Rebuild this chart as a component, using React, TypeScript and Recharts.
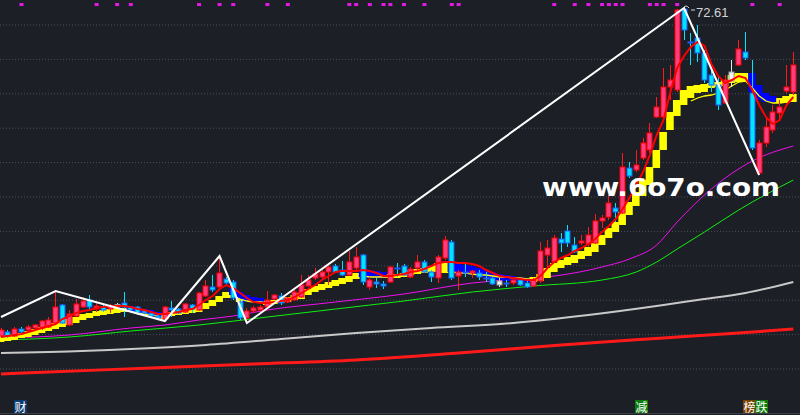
import React from 'react';
import { ComposedChart, Line, Bar, Scatter, XAxis, YAxis, ReferenceLine } from 'recharts';

const W = 800;
const H = 415;
const X_DOMAIN: [number, number] = [-0.146, 116.98];
const Y_DOMAIN: [number, number] = [11.56, 73.81];

// ---- candles (index 0..116) ----
const opens = [
  23.41, 24.01, 23.41, 24.46, 24.31, 24.61, 24.61, 24.76, 25.36, 28.06,
  25.06, 26.41, 27.76, 28.81, 27.46, 27.76, 27.46, 28.13, 28.36, 27.76,
  27.76, 27.16, 26.86, 26.41, 25.96, 27.61, 27.46, 27.01, 28.06, 27.31,
  29.41, 30.76, 30.76, 31.96, 31.51, 28.51, 26.11, 27.16, 27.31, 27.76,
  28.96, 29.41, 28.51, 28.81, 29.26, 30.91, 32.11, 32.26, 33.01, 33.91,
  33.31, 32.56, 33.61, 35.56, 30.76, 31.51, 31.21, 31.51, 33.61, 33.91,
  32.26, 33.61, 34.51, 33.01, 32.11, 35.11, 37.51, 32.41, 33.01, 32.86,
  32.86, 32.11, 32.11, 31.66, 31.36, 31.36, 31.81, 31.36, 30.91, 31.66,
  35.56, 34.51, 37.96, 39.16, 37.06, 37.36, 37.21, 37.36, 40.66, 41.26,
  42.61, 41.86, 48.61, 48.31, 50.11, 51.31, 56.26, 56.26, 60.76, 60.31,
  72.46, 67.51, 68.11, 65.86, 62.56, 61.06, 58.36, 61.66, 64.06, 66.01,
  59.86, 47.86, 52.36, 54.31, 56.86, 60.16, 60.01,
];
const highs = [
  24.61, 24.31, 24.76, 24.76, 25.06, 25.21, 25.81, 26.26, 30.16, 28.21,
  27.31, 28.96, 29.26, 29.56, 28.36, 28.21, 28.21, 28.36, 30.01, 27.91,
  27.91, 27.46, 27.01, 26.56, 27.91, 28.66, 27.61, 28.36, 28.21, 30.01,
  31.81, 32.56, 35.41, 32.26, 31.81, 28.81, 27.61, 27.91, 28.06, 30.16,
  29.71, 29.86, 29.26, 30.31, 32.56, 32.56, 33.61, 33.31, 34.36, 34.21,
  34.66, 36.16, 36.76, 35.71, 32.26, 32.11, 31.66, 33.91, 34.36, 34.21,
  33.76, 35.56, 34.81, 33.31, 35.56, 38.41, 37.81, 33.31, 34.51, 33.31,
  33.31, 33.01, 32.26, 32.11, 31.81, 31.96, 32.11, 31.81, 32.11, 37.51,
  37.81, 38.56, 38.86, 40.06, 38.26, 38.56, 39.76, 41.71, 41.56, 44.56,
  43.36, 50.86, 49.51, 51.31, 53.11, 55.36, 59.26, 63.61, 64.06, 72.46,
  72.61, 68.86, 70.06, 66.31, 63.76, 62.26, 62.56, 64.81, 67.81, 69.01,
  64.81, 52.81, 56.26, 58.06, 58.81, 64.06, 66.01,
];
const lows = [
  23.11, 23.11, 23.26, 23.56, 24.01, 24.31, 24.31, 24.61, 25.21, 25.21,
  24.91, 26.26, 27.61, 27.31, 27.01, 27.01, 26.86, 27.76, 26.26, 27.01,
  26.56, 26.56, 26.26, 25.81, 25.66, 26.26, 26.71, 26.86, 26.86, 27.16,
  29.26, 30.01, 30.61, 31.06, 28.81, 25.81, 25.36, 26.86, 27.01, 27.61,
  28.81, 28.06, 28.36, 28.66, 29.11, 30.76, 31.81, 31.96, 31.06, 32.86,
  32.41, 32.41, 33.31, 31.06, 30.31, 30.61, 30.46, 31.36, 32.26, 32.41,
  32.11, 33.31, 32.86, 31.51, 31.36, 34.81, 31.81, 30.31, 32.26, 32.11,
  31.81, 31.51, 31.06, 30.76, 30.76, 31.06, 30.91, 30.61, 30.76, 31.36,
  33.76, 34.36, 36.01, 36.76, 35.86, 37.06, 36.76, 37.21, 39.61, 40.81,
  40.51, 41.71, 47.11, 48.01, 49.81, 50.86, 56.11, 55.96, 58.81, 60.01,
  67.81, 64.06, 64.51, 61.36, 60.01, 57.31, 58.21, 60.76, 63.91, 64.81,
  51.31, 47.56, 51.76, 53.86, 55.81, 59.86, 59.56,
];
const closes = [
  24.31, 23.41, 24.46, 24.01, 24.76, 25.06, 25.66, 25.81, 27.76, 25.36,
  26.71, 28.21, 28.66, 27.76, 27.91, 27.31, 27.91, 28.10, 27.76, 27.31,
  26.86, 26.86, 26.41, 26.11, 27.76, 27.31, 26.86, 28.21, 27.46, 29.86,
  30.91, 30.31, 32.86, 31.36, 29.11, 26.11, 27.16, 27.61, 27.76, 28.81,
  29.56, 28.36, 29.11, 30.01, 31.06, 31.81, 32.71, 33.01, 33.76, 33.01,
  32.56, 34.51, 35.26, 31.51, 31.81, 31.21, 30.91, 33.76, 33.46, 32.56,
  33.46, 34.51, 33.01, 32.26, 35.26, 37.81, 32.11, 33.01, 32.86, 33.16,
  32.26, 31.96, 31.21, 31.06, 31.21, 31.81, 31.06, 30.76, 31.81, 36.16,
  36.61, 38.11, 37.36, 37.36, 36.01, 37.66, 38.56, 40.66, 41.11, 43.36,
  42.01, 48.76, 47.41, 49.06, 52.36, 53.86, 57.76, 60.76, 61.81, 72.31,
  69.31, 67.36, 65.86, 61.81, 61.06, 58.06, 61.81, 63.01, 66.46, 65.11,
  51.61, 52.36, 54.76, 57.01, 57.76, 60.76, 64.06,
];
const whiteCandles = [17, 73, 107];

// ---- MA5 (red thin) ----
const ma5 = [
  23.26, 23.41, 23.56, 23.71, 24.01, 24.31, 24.61, 24.91, 25.21, 25.96,
  26.41, 26.86, 27.16, 27.31, 27.61, 27.76, 27.91, 27.91, 27.91, 27.76,
  27.46, 27.31, 27.01, 26.71, 26.71, 26.86, 27.01, 27.31, 27.46, 28.06,
  28.81, 29.41, 30.46, 31.06, 30.61, 29.86, 29.11, 28.51, 28.36, 28.36,
  28.51, 28.66, 28.81, 29.26, 29.86, 30.46, 31.06, 31.81, 32.41, 33.01,
  33.16, 33.16, 33.16, 33.31, 33.16, 32.86, 32.41, 32.41, 32.56, 32.71,
  33.01, 33.16, 33.46, 33.91, 34.36, 34.51, 34.51, 34.36, 34.36, 34.21,
  33.91, 33.31, 32.86, 32.41, 32.26, 32.11, 31.96, 31.81, 31.81, 32.41,
  33.61, 34.51, 35.11, 35.56, 36.16, 36.61, 37.21, 37.96, 39.01, 39.91,
  40.96, 42.46, 44.11, 46.06, 48.01, 50.56, 53.56, 55.81, 60.01, 63.61,
  65.41, 66.76, 67.51, 66.91, 64.21, 62.41, 61.36, 61.81, 62.41, 62.11,
  60.31, 58.06, 56.26, 55.21, 55.81, 58.06, 59.26,
];

// ---- ladder band ----
const bandYellow: ([number, number] | null)[] = [
  [22.51, 23.41], [22.66, 23.56], [22.81, 23.71], [23.11, 23.86], [23.26, 24.16],
  [23.56, 24.46], [23.86, 24.76], [24.16, 25.06], [24.46, 25.36], [24.76, 25.66],
  [25.06, 25.96], [25.36, 26.26], [25.81, 26.71], [26.11, 26.86], [26.41, 27.16],
  [26.56, 27.31], [26.71, 27.46], [26.86, 27.61], [27.01, 27.61], null,
  null, null, null, null, [25.96, 26.56],
  [26.41, 27.01], [26.56, 27.16], [26.71, 27.31], [26.86, 27.46], [27.01, 27.76],
  [27.46, 28.36], [27.91, 28.81], [28.51, 29.41], [29.11, 30.01], [29.11, 29.56],
  [28.51, 28.96], null, null, null, [28.06, 28.66],
  [28.21, 28.81], [28.36, 28.96], [28.51, 29.26], [28.81, 29.56], [28.96, 29.86],
  [29.56, 30.46], [30.01, 30.91], [30.31, 31.21], [30.61, 31.51], [30.91, 31.81],
  [31.21, 32.11], [31.51, 32.41], [31.96, 32.86], null, null,
  null, null, [32.11, 32.71], [32.11, 32.71], [32.26, 32.86],
  [32.56, 33.31], [32.71, 33.46], [32.86, 33.61], [33.01, 33.91], [33.01, 34.36],
  [32.86, 34.36], null, null, null, null,
  null, null, null, null, null,
  null, null, null, [31.51, 32.26], [31.66, 32.71],
  [32.11, 33.61], [33.01, 34.36], [33.61, 34.81], [34.06, 35.26], [34.36, 35.56],
  [34.96, 36.16], [35.41, 36.76], [36.01, 37.36], [37.06, 38.56], [38.11, 39.61],
  [39.01, 40.51], [40.06, 42.01], [41.56, 43.51], [42.91, 45.01], [44.41, 46.81],
  [46.06, 48.76], [48.61, 51.31], [51.31, 54.01], [54.31, 57.01], [56.41, 58.81],
  [58.06, 60.31], [59.11, 60.91], [59.86, 61.06], [60.01, 61.21], [60.61, 61.36],
  [60.76, 61.51], [60.91, 61.81], [61.36, 62.56], [61.51, 62.86], [61.51, 62.86],
  null, null, null, null, [58.36, 59.11],
  [58.36, 59.41], [58.51, 59.71],
];
const bandBlue: [number, number, number][] = [
  [19, 27.16, 27.91], [20, 27.01, 27.76], [21, 26.71, 27.46], [22, 26.56, 27.31], [23, 26.41, 27.01],
  [34, 29.56, 30.61], [35, 28.96, 30.01], [36, 28.51, 29.56], [37, 28.51, 29.26], [38, 28.36, 29.11],
  [53, 32.26, 33.31], [54, 32.11, 33.31], [55, 32.11, 33.16], [56, 32.11, 33.01],
  [66, 33.01, 34.36], [67, 32.86, 34.21], [68, 32.71, 34.06], [69, 32.56, 33.91], [70, 32.41, 33.61],
  [71, 32.26, 33.31], [72, 31.96, 33.01], [73, 31.81, 32.71], [74, 31.66, 32.56], [75, 31.66, 32.41],
  [76, 31.51, 32.26], [77, 31.51, 32.11],
  [110, 60.01, 62.86], [111, 58.81, 61.06], [112, 58.51, 59.86], [113, 58.51, 59.41],
];
// thin yellow line (visible segments)
const thinYellowPts: [number, number][] = [
  [19, 27.01], [20, 26.86], [21, 26.71], [22, 26.56], [23, 26.41],
  [34, 29.41], [35, 28.96], [36, 28.66], [37, 28.51], [38, 28.51], [39, 28.36],
  [53, 32.41], [54, 32.26], [55, 32.26], [56, 32.26], [57, 32.26],
  [66, 33.01], [67, 32.86], [68, 32.86], [69, 32.71], [70, 32.56], [71, 32.56], [72, 32.41],
  [73, 32.26], [74, 32.26], [75, 32.11], [76, 32.11], [77, 31.96], [78, 31.96],
  [101, 58.66], [102, 59.11], [103, 59.41], [104, 59.56], [105, 59.86], [106, 60.31],
  [107, 60.91], [108, 61.51], [109, 61.66], [110, 60.61], [111, 59.41], [112, 58.66],
  [113, 58.36], [114, 58.36], [115, 58.51], [116, 58.81],
];

// ---- long moving averages (read points) ----
const maRedLongPts: [number, number][] = [
  [0, 17.71], [7, 18.01], [22, 18.61], [37, 19.21], [52, 19.81], [67, 20.86],
  [82, 22.06], [97, 23.11], [108, 23.86], [116, 24.46],
];
const maGrayPts: [number, number][] = [
  [0, 20.86], [7, 21.01], [19, 21.46], [30, 22.06], [41, 22.96], [52, 23.86], [63, 24.61],
  [75, 25.36], [86, 26.56], [97, 28.06], [102, 28.81], [109, 29.86], [116, 31.51],
];
const maGreenPts: [number, number][] = [
  [0, 22.81], [10, 23.26], [19, 24.16], [29, 25.06], [39, 26.26], [49, 27.46], [59, 28.66],
  [69, 30.01], [78, 30.91], [88, 31.81], [93, 33.01], [96, 34.51], [99, 36.46], [103, 39.01],
  [108, 42.31], [116, 46.81],
];
const maMagentaPts: [number, number][] = [
  [0, 23.11], [10, 23.56], [19, 24.61], [24, 25.06], [29, 25.81], [34, 26.41], [39, 27.31],
  [49, 28.51], [59, 29.71], [69, 31.36], [74, 31.81], [78, 32.11], [81, 32.41], [88, 33.76],
  [92, 34.96], [96, 37.06], [99, 40.51], [104, 45.46], [110, 49.66], [116, 51.91],
];
const zigzagPts: [number, number][] = [
  [0, 26.26], [8, 30.16], [24, 25.66], [32, 35.41], [36, 25.36], [100, 72.61], [111, 47.56],
];
const signalIdx = [3, 14, 17, 19, 29, 32, 34, 39, 42, 51, 52, 54, 56, 57, 59, 62, 66, 67,
  81, 84, 86, 88, 89, 90, 91, 95, 96, 97, 99, 110, 114];
const SIGNAL_LEVEL = 73.13;
const gridLevels = [70.06, 64.9, 59.74, 54.58, 49.42, 44.26, 39.1, 33.94, 28.78, 23.62, 18.46];
const peakPoint = [{ i: 100, peak: 72.61 }];
const PEAK_TEXT = '72.61';
const WATERMARK = 'www.6o7o.com';

// ---- build rows ----
const whiteSet = new Set(whiteCandles);
const blueMap = new Map<number, [number, number]>(bandBlue.map(([i, lo, hi]) => [i, [lo, hi]]));
const thinMap = new Map(thinYellowPts);
const redLongMap = new Map(maRedLongPts);
const grayMap = new Map(maGrayPts);
const greenMap = new Map(maGreenPts);
const magMap = new Map(maMagentaPts);
const zzMap = new Map(zigzagPts);

const rows = opens.map((o, i) => ({
  i,
  open: o,
  high: highs[i],
  low: lows[i],
  close: closes[i],
  range: [lows[i], highs[i]],
  yb: bandYellow[i],
  bb: blueMap.get(i) ?? null,
  ma5: ma5[i],
  thin: thinMap.has(i) ? thinMap.get(i) : null,
  redLong: redLongMap.has(i) ? redLongMap.get(i) : null,
  gray: grayMap.has(i) ? grayMap.get(i) : null,
  green: greenMap.has(i) ? greenMap.get(i) : null,
  mag: magMap.has(i) ? magMap.get(i) : null,
  zz: zzMap.has(i) ? zzMap.get(i) : null,
}));
const signalRows = signalIdx.map((i) => ({ i, sig: SIGNAL_LEVEL }));

// ---- shapes ----
const CandleShape = (props: any) => {
  const { x, y, width, height } = props;
  const p = props.payload ?? props;
  if (p == null || !isFinite(y) || !isFinite(height)) return <g />;
  const { open, close, high, low, i } = p;
  const cx = Math.round(x + width / 2) + 0.5;
  const ratio = height / (high - low || 1);
  const yOf = (v: number) => y + (high - v) * ratio;
  const top = yOf(Math.max(open, close));
  const bot = yOf(Math.min(open, close));
  const white = whiteSet.has(i);
  const up = close >= open;
  const wick = white ? '#e6e6e6' : up ? '#ff1a1a' : '#00e5ff';
  const fill = white ? '#f2f2f2' : up ? '#ff3d7f' : '#00e5ff';
  const stroke = white ? '#a0a0a0' : up ? '#ff0000' : '#1a5cff';
  return (
    <g>
      <line x1={cx} x2={cx} y1={y} y2={y + height} stroke={wick} strokeWidth={1} />
      <rect x={cx - 2.5} y={top} width={5} height={Math.max(bot - top, 1)} fill={fill} stroke={stroke} strokeWidth={1} />
    </g>
  );
};

const makeBandShape = (key: 'yb' | 'bb', color: string) => (props: any) => {
  const { x, y, width, height } = props;
  const p = props.payload ?? props;
  if (p == null || p[key] == null || !isFinite(y) || !isFinite(height) || height <= 0) return <g />;
  const cx = x + width / 2;
  return <rect x={cx - 3.8} y={y} width={7.6} height={height} fill={color} />;
};
const YellowBand = makeBandShape('yb', '#ffff00');
const BlueBand = makeBandShape('bb', '#0000ff');

const SignalDot = (props: any) => {
  const { cx, cy } = props;
  if (!isFinite(cx) || !isFinite(cy)) return <g />;
  return <rect x={cx - 2} y={cy - 1.5} width={4} height={3} fill="#e619e6" />;
};

const PeakMark = (props: any) => {
  const { cx, cy } = props;
  if (!isFinite(cx) || !isFinite(cy)) return <g />;
  return (
    <g>
      <path d={`M${cx - 1},${cy} Q${cx + 2},${cy - 4} ${cx + 5},${cy}`} stroke="#d8d8d8" strokeWidth={1} fill="none" />
      <line x1={cx + 7} y1={cy + 2} x2={cx + 11} y2={cy + 2} stroke="#d8d8d8" strokeWidth={1} />
      <text x={cx + 12} y={cy + 8.5} fill="#d4d4d4" fontSize={13} fontFamily="Liberation Sans, Arial, sans-serif">
        {PEAK_TEXT}
      </text>
    </g>
  );
};

const Layer = ({ children }: { children: React.ReactNode }) => (
  <div style={{ position: 'absolute', left: 0, top: 0, width: W, height: H }}>
    <ComposedChart width={W} height={H} data={rows} margin={{ top: 0, right: 0, bottom: 0, left: 0 }}>
      <XAxis dataKey="i" type="number" domain={X_DOMAIN} hide allowDataOverflow />
      <YAxis type="number" domain={Y_DOMAIN} hide allowDataOverflow />
      {children}
    </ComposedChart>
  </div>
);

const tagStyle = (left: number, bg: string): React.CSSProperties => ({
  position: 'absolute',
  left,
  top: 400,
  width: 13,
  height: 13,
  background: bg,
  color: '#ffffff',
  fontSize: 12,
  lineHeight: '13px',
  textAlign: 'center',
  fontFamily: '"Noto Sans CJK SC", sans-serif',
});

export default function App() {
  return (
    <div
      style={{
        position: 'absolute',
        left: 0,
        top: 0,
        width: W,
        height: H,
        background: '#1c1f26',
        overflow: 'hidden',
        fontFamily: 'Liberation Sans, Arial, sans-serif',
      }}
    >
      <Layer>
        {gridLevels.map((g) => (
          <ReferenceLine key={g} y={g} stroke="#4a4e58" strokeDasharray="1 2" strokeWidth={1} />
        ))}
        <Line type="monotone" dataKey="redLong" stroke="#ff1a1a" strokeWidth={3} dot={false} connectNulls isAnimationActive={false} />
        <Line type="monotone" dataKey="gray" stroke="#c8c8c8" strokeWidth={2} dot={false} connectNulls isAnimationActive={false} />
        <Line type="monotone" dataKey="green" stroke="#10f010" strokeWidth={1} dot={false} connectNulls isAnimationActive={false} />
        <Line type="monotone" dataKey="mag" stroke="#f010f0" strokeWidth={1} dot={false} connectNulls isAnimationActive={false} />
      </Layer>
      <Layer>
        <Bar dataKey="yb" barSize={6} shape={YellowBand} isAnimationActive={false} />
      </Layer>
      <Layer>
        <Bar dataKey="bb" barSize={6} shape={BlueBand} isAnimationActive={false} />
      </Layer>
      <Layer>
        <Line dataKey="thin" stroke="#ffff00" strokeWidth={1.3} dot={false} isAnimationActive={false} />
      </Layer>
      <Layer>
        <Bar dataKey="range" barSize={6} shape={CandleShape} isAnimationActive={false} />
      </Layer>
      <Layer>
        <Line dataKey="ma5" stroke="#ff0000" strokeWidth={2} dot={false} isAnimationActive={false} />
        <Line dataKey="zz" stroke="#ffffff" strokeWidth={2} dot={false} connectNulls isAnimationActive={false} />
        <Scatter data={signalRows} dataKey="sig" shape={SignalDot} isAnimationActive={false} />
        <Scatter data={peakPoint} dataKey="peak" shape={PeakMark} isAnimationActive={false} />
      </Layer>
      <svg width={W} height={H} style={{ position: 'absolute', left: 0, top: 0 }}>
        <text
          x={542}
          y={196}
          fill="#ffffff"
          fontSize={25}
          fontWeight="bold"
          fontFamily="DejaVu Sans, sans-serif"
          textLength={238}
          lengthAdjust="spacingAndGlyphs"
        >
          {WATERMARK}
        </text>
      </svg>
      <div style={tagStyle(14, '#0b3b6f')}>财</div>
      <div style={tagStyle(635, '#0a7a0a')}>减</div>
      <div style={tagStyle(743, '#7b3f00')}>榜</div>
      <div style={tagStyle(755, '#0a7a0a')}>跌</div>
      <div style={{ position: 'absolute', left: 0, top: 413, width: W, height: 1, background: '#3a3e47' }} />
    </div>
  );
}
